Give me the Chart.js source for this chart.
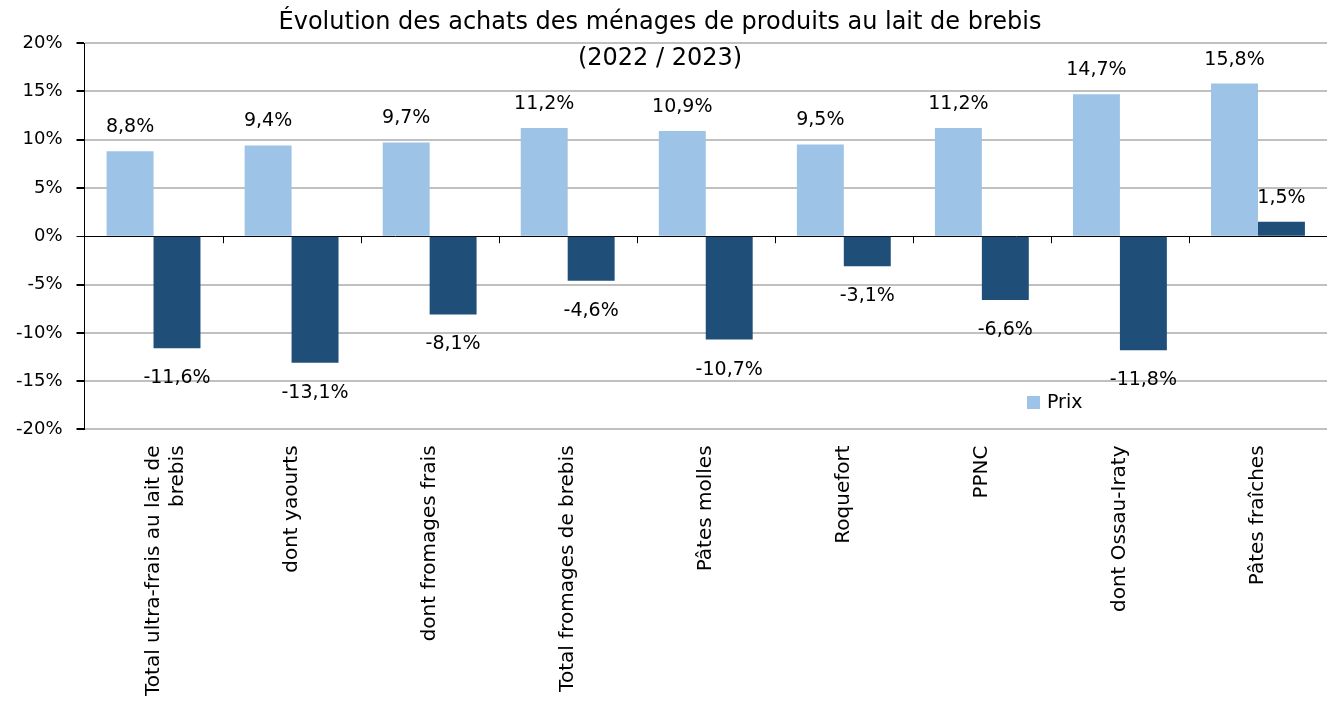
<!DOCTYPE html>
<html>
<head>
<meta charset="utf-8">
<script src="https://cdn.jsdelivr.net/npm/chart.js@4.4.1/dist/chart.umd.min.js"></script>
<style>
  html, body { margin: 0; padding: 0; background: #fff; }
  #wrap { width: 1330px; height: 704px; position: relative; }
</style>
</head>
<body>
<div id="wrap"><canvas id="c" width="1330" height="704"></canvas></div>
<script>
// data
const categories = [
  ['Total ultra-frais au lait de', 'brebis'],
  'dont yaourts',
  'dont fromages frais',
  'Total fromages de brebis',
  'Pâtes molles',
  'Roquefort',
  'PPNC',
  'dont Ossau-Iraty',
  'Pâtes fraîches'
];
const prix = [8.8, 9.4, 9.7, 11.2, 10.9, 9.5, 11.2, 14.7, 15.8];
const volumes = [-11.6, -13.1, -8.1, -4.6, -10.7, -3.1, -6.6, -11.8, 1.5];
const yTicks = [-20, -15, -10, -5, 0, 5, 10, 15, 20];

const FONT = '"DejaVu Sans", sans-serif';
const fmt = v => v.toFixed(1).replace('.', ',') + '%';

const overlay = {
  id: 'overlay',
  afterDatasetsDraw(chart) {
    const ctx = chart.ctx;
    ctx.save();
    ctx.font = '19px ' + FONT;
    ctx.fillStyle = '#000';
    ctx.textAlign = 'center';
    ctx.textBaseline = 'middle';
    chart.data.datasets.forEach((ds, di) => {
      chart.getDatasetMeta(di).data.forEach((bar, i) => {
        const v = ds.data[i];
        const y = v >= 0 ? bar.y - 24 : bar.y + 30;
        ctx.fillText(fmt(v), bar.x, y);
      });
    });
    ctx.restore();
  },
  afterDraw(chart) {
    const ctx = chart.ctx;
    const x = chart.scales.x, y = chart.scales.y;
    const y0 = y.getPixelForValue(0);
    ctx.save();
    // category tick marks on the zero line
    ctx.strokeStyle = '#000';
    ctx.lineWidth = 1;
    for (let i = 1; i < categories.length; i++) {
      const bx = Math.round((x.getPixelForValue(i - 1) + x.getPixelForValue(i)) / 2) + 0.5;
      ctx.beginPath();
      ctx.moveTo(bx, y0);
      ctx.lineTo(bx, y0 + 7);
      ctx.stroke();
    }
    // title
    ctx.fillStyle = '#000';
    ctx.textAlign = 'center';
    ctx.textBaseline = 'middle';
    ctx.font = '24px ' + FONT;
    ctx.fillText('Évolution des achats des ménages de produits au lait de brebis', 660, 23);
    ctx.fillText('(2022 / 2023)', 660, 59);
    // legend (only the first series is visible)
    ctx.fillStyle = chart.data.datasets[0].backgroundColor;
    ctx.fillRect(1027, 396, 13, 13);
    ctx.fillStyle = '#000';
    ctx.textAlign = 'left';
    ctx.font = '19px ' + FONT;
    ctx.fillText(chart.data.datasets[0].label, 1047, 403);
    ctx.restore();
  }
};

new Chart(document.getElementById('c'), {
  type: 'bar',
  data: {
    labels: categories,
    datasets: [
      { label: 'Prix', data: prix, backgroundColor: '#9dc3e6' },
      { label: 'Volumes', data: volumes, backgroundColor: '#1f4e79' }
    ]
  },
  options: {
    responsive: false,
    animation: false,
    layout: { padding: { top: 43, right: 3, left: 2, bottom: -8 } },
    datasets: { bar: { categoryPercentage: 0.68, barPercentage: 1 } },
    plugins: {
      legend: { display: false },
      tooltip: { enabled: false }
    },
    scales: {
      x: {
        grid: { display: false, drawTicks: false },
        border: { display: false },
        ticks: {
          color: '#000',
          font: { family: FONT, size: 20 },
          minRotation: 90,
          maxRotation: 90,
          padding: 16
        }
      },
      y: {
        min: -20,
        max: 20,
        afterBuildTicks: s => { s.ticks = yTicks.map(v => ({ value: v })); },
        border: { display: true, color: '#000', width: 1 },
        grid: {
          color: c => c.tick && c.tick.value === 0 ? '#000' : '#c0c0c0',
          lineWidth: c => c.tick && c.tick.value === 0 ? 1 : 2,
          tickColor: '#000',
          tickLength: 8
        },
        ticks: {
          color: '#000',
          font: { family: FONT, size: 18 },
          padding: 14,
          callback: v => v + '%'
        }
      }
    }
  },
  plugins: [overlay]
});
</script>
</body>
</html>
